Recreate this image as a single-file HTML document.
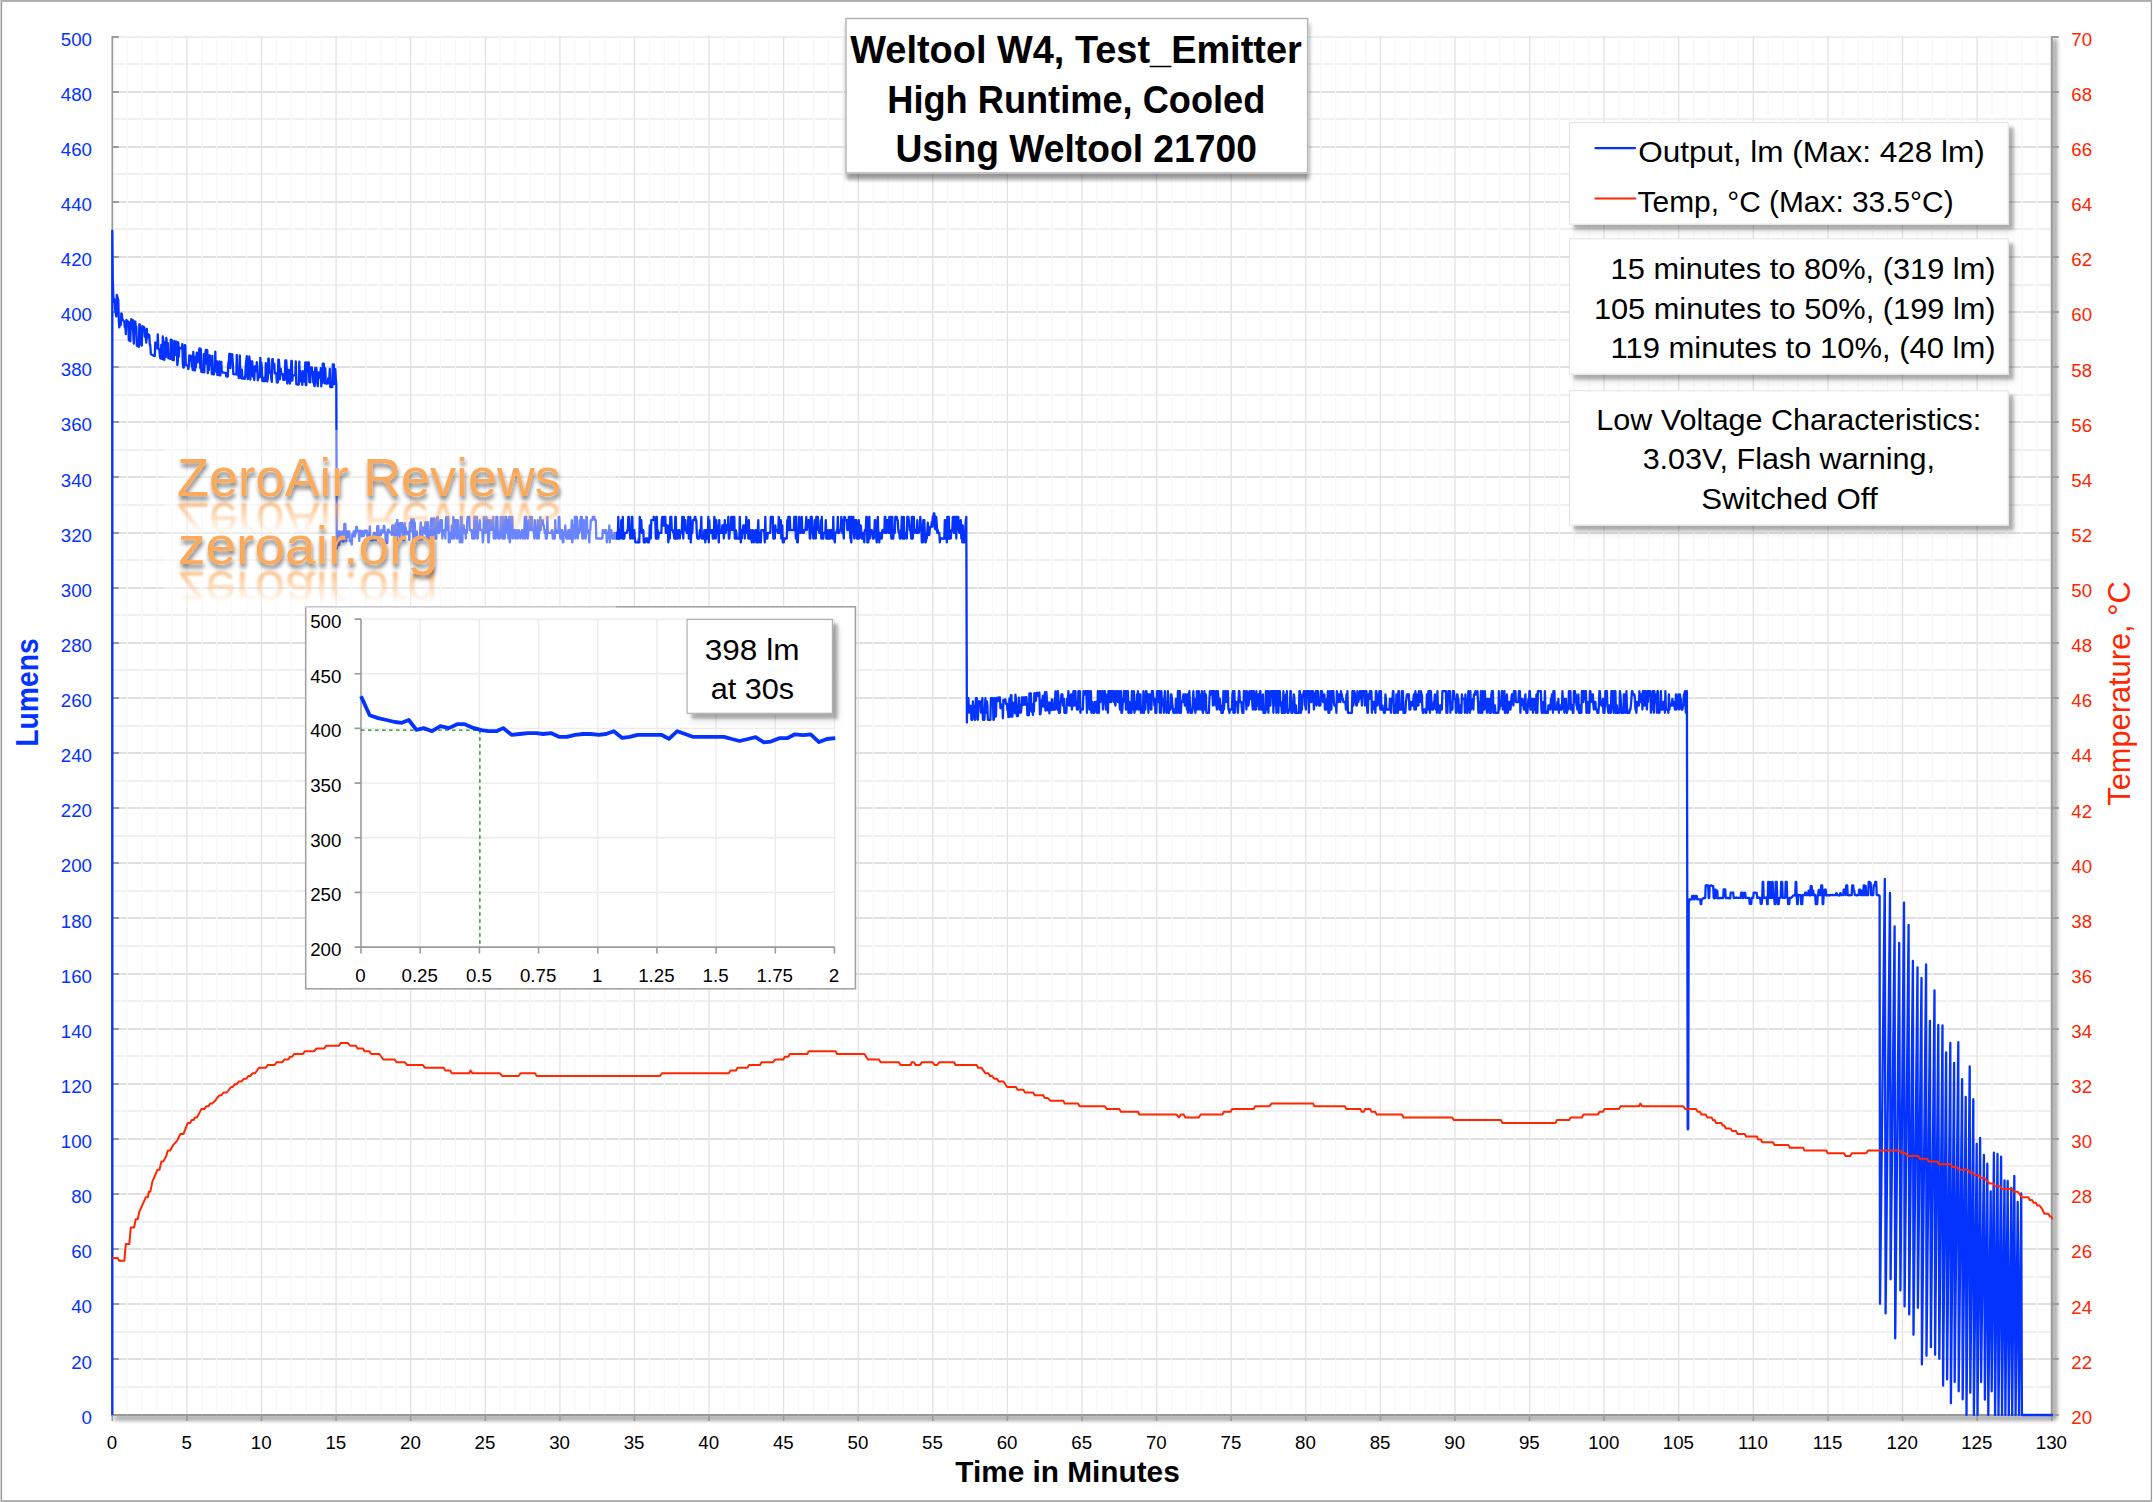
<!DOCTYPE html>
<html lang="en"><head><meta charset="utf-8"><title>Weltool W4, Test_Emitter - High Runtime, Cooled</title>
<style>html,body{margin:0;padding:0;background:#fff}svg{display:block}text{font-family:'Liberation Sans', sans-serif}</style></head><body>
<svg width="2153" height="1502" viewBox="0 0 2153 1502">
<defs>
<filter id="sh" x="-5%" y="-10%" width="115%" height="135%"><feGaussianBlur in="SourceAlpha" stdDeviation="1.5" result="b1"/><feOffset in="b1" dx="4.5" dy="5.3" result="o1"/><feComponentTransfer in="o1" result="s1"><feFuncA type="linear" slope="0.25"/></feComponentTransfer><feGaussianBlur in="SourceAlpha" stdDeviation="4" result="b2"/><feOffset in="b2" dx="4.5" dy="6.5" result="o2"/><feComponentTransfer in="o2" result="s2"><feFuncA type="linear" slope="0.12"/></feComponentTransfer><feMerge><feMergeNode in="s2"/><feMergeNode in="s1"/><feMergeNode in="SourceGraphic"/></feMerge></filter>
<filter id="shT" x="-5%" y="-10%" width="110%" height="135%"><feGaussianBlur in="SourceAlpha" stdDeviation="2.3"/><feOffset dx="0.5" dy="5.5"/><feComponentTransfer><feFuncA type="linear" slope="0.4"/></feComponentTransfer><feMerge><feMergeNode/><feMergeNode in="SourceGraphic"/></feMerge></filter>
<filter id="shAx" filterUnits="userSpaceOnUse" x="90" y="20" width="2000" height="1430"><feGaussianBlur in="SourceAlpha" stdDeviation="2.6"/><feOffset dx="2.8" dy="2.8"/><feComponentTransfer><feFuncA type="linear" slope="0.95"/></feComponentTransfer><feMerge><feMergeNode/><feMergeNode in="SourceGraphic"/></feMerge></filter>
<filter id="wsh" x="-5%" y="-20%" width="110%" height="150%"><feGaussianBlur in="SourceAlpha" stdDeviation="2.2"/><feOffset dx="1" dy="3.5"/><feComponentTransfer><feFuncA type="linear" slope="0.5"/></feComponentTransfer><feMerge><feMergeNode/><feMergeNode in="SourceGraphic"/></feMerge></filter>
<filter id="rb" x="-5%" y="-20%" width="110%" height="140%"><feGaussianBlur stdDeviation="1"/></filter>
<linearGradient id="rg1" gradientUnits="userSpaceOnUse" x1="0" y1="499.5" x2="0" y2="465"><stop offset="0" stop-color="#FBAA5C" stop-opacity="0.8"/><stop offset="1" stop-color="#FBAA5C" stop-opacity="0"/></linearGradient>
<linearGradient id="rg2" gradientUnits="userSpaceOnUse" x1="0" y1="567.9" x2="0" y2="532"><stop offset="0" stop-color="#FBAA5C" stop-opacity="0.8"/><stop offset="1" stop-color="#FBAA5C" stop-opacity="0"/></linearGradient>
<clipPath id="rc1"><rect x="160" y="499.5" width="460" height="40"/></clipPath>
<clipPath id="rc2"><rect x="160" y="567.9" width="460" height="40"/></clipPath>
</defs>
<rect x="0" y="0" width="2153" height="1502" fill="#fff"/>
<rect x="0" y="0" width="1" height="1502" fill="#D9D9D9"/>
<rect x="0.9" y="0" width="1.25" height="1502" fill="#999"/><rect x="2150.8" y="0" width="1.25" height="1502" fill="#999"/>
<rect x="0.9" y="0" width="2151.1" height="1.9" fill="#ADADAD"/><rect x="0.9" y="1500.1" width="2151.1" height="1.9" fill="#ADADAD"/>
<g filter="url(#shAx)"><path d="M111.3 1415 H2052.7 M2051.7 36 V1416" stroke="#9B9B9B" stroke-width="2" fill="none"/></g>
<rect x="112.3" y="34" width="1938.4" height="1380" fill="#fff"/>
<path d="M112.3 1387 H2051.7 M112.3 1332 H2051.7 M112.3 1277 H2051.7 M112.3 1222 H2051.7 M112.3 1166 H2051.7 M112.3 1111 H2051.7 M112.3 1056 H2051.7 M112.3 1001 H2051.7 M112.3 946 H2051.7 M112.3 891 H2051.7 M112.3 836 H2051.7 M112.3 781 H2051.7 M112.3 726 H2051.7 M112.3 670 H2051.7 M112.3 615 H2051.7 M112.3 560 H2051.7 M112.3 505 H2051.7 M112.3 450 H2051.7 M112.3 395 H2051.7 M112.3 340 H2051.7 M112.3 285 H2051.7 M112.3 229 H2051.7 M112.3 174 H2051.7 M112.3 119 H2051.7 M112.3 64 H2051.7" stroke="#F0F0F0" stroke-width="2" fill="none"/>
<path d="M112.3 1359 H2051.7 M112.3 1304 H2051.7 M112.3 1249 H2051.7 M112.3 1194 H2051.7 M112.3 1139 H2051.7 M112.3 1084 H2051.7 M112.3 1029 H2051.7 M112.3 974 H2051.7 M112.3 918 H2051.7 M112.3 863 H2051.7 M112.3 808 H2051.7 M112.3 753 H2051.7 M112.3 698 H2051.7 M112.3 643 H2051.7 M112.3 588 H2051.7 M112.3 533 H2051.7 M112.3 477 H2051.7 M112.3 422 H2051.7 M112.3 367 H2051.7 M112.3 312 H2051.7 M112.3 257 H2051.7 M112.3 202 H2051.7 M112.3 147 H2051.7 M112.3 92 H2051.7" stroke="#E0E0E0" stroke-width="2" fill="none"/>
<path d="M112.3 37 H2051.7" stroke="#EEEEEE" stroke-width="2" fill="none"/>
<path d="M127.2 36 V1415 M142.1 36 V1415 M157.1 36 V1415 M172 36 V1415 M201.8 36 V1415 M216.7 36 V1415 M231.6 36 V1415 M246.6 36 V1415 M276.4 36 V1415 M291.3 36 V1415 M306.2 36 V1415 M321.2 36 V1415 M351 36 V1415 M365.9 36 V1415 M380.8 36 V1415 M395.8 36 V1415 M425.6 36 V1415 M440.5 36 V1415 M455.4 36 V1415 M470.3 36 V1415 M500.2 36 V1415 M515.1 36 V1415 M530 36 V1415 M544.9 36 V1415 M574.8 36 V1415 M589.7 36 V1415 M604.6 36 V1415 M619.5 36 V1415 M649.4 36 V1415 M664.3 36 V1415 M679.2 36 V1415 M694.1 36 V1415 M724 36 V1415 M738.9 36 V1415 M753.8 36 V1415 M768.7 36 V1415 M798.5 36 V1415 M813.5 36 V1415 M828.4 36 V1415 M843.3 36 V1415 M873.1 36 V1415 M888.1 36 V1415 M903 36 V1415 M917.9 36 V1415 M947.7 36 V1415 M962.7 36 V1415 M977.6 36 V1415 M992.5 36 V1415 M1022.3 36 V1415 M1037.2 36 V1415 M1052.2 36 V1415 M1067.1 36 V1415 M1096.9 36 V1415 M1111.8 36 V1415 M1126.8 36 V1415 M1141.7 36 V1415 M1171.5 36 V1415 M1186.4 36 V1415 M1201.3 36 V1415 M1216.3 36 V1415 M1246.1 36 V1415 M1261 36 V1415 M1275.9 36 V1415 M1290.9 36 V1415 M1320.7 36 V1415 M1335.6 36 V1415 M1350.5 36 V1415 M1365.5 36 V1415 M1395.3 36 V1415 M1410.2 36 V1415 M1425.1 36 V1415 M1440 36 V1415 M1469.9 36 V1415 M1484.8 36 V1415 M1499.7 36 V1415 M1514.6 36 V1415 M1544.5 36 V1415 M1559.4 36 V1415 M1574.3 36 V1415 M1589.2 36 V1415 M1619.1 36 V1415 M1634 36 V1415 M1648.9 36 V1415 M1663.8 36 V1415 M1693.7 36 V1415 M1708.6 36 V1415 M1723.5 36 V1415 M1738.4 36 V1415 M1768.2 36 V1415 M1783.2 36 V1415 M1798.1 36 V1415 M1813 36 V1415 M1842.8 36 V1415 M1857.8 36 V1415 M1872.7 36 V1415 M1887.6 36 V1415 M1917.4 36 V1415 M1932.4 36 V1415 M1947.3 36 V1415 M1962.2 36 V1415 M1992 36 V1415 M2006.9 36 V1415 M2021.9 36 V1415 M2036.8 36 V1415" stroke="#F7F7F7" stroke-width="1.3" fill="none"/>
<path d="M186.9 36 V1415 M261.5 36 V1415 M336.1 36 V1415 M410.7 36 V1415 M485.3 36 V1415 M559.9 36 V1415 M634.4 36 V1415 M709 36 V1415 M783.6 36 V1415 M858.2 36 V1415 M932.8 36 V1415 M1007.4 36 V1415 M1082 36 V1415 M1156.6 36 V1415 M1231.2 36 V1415 M1305.8 36 V1415 M1380.4 36 V1415 M1455 36 V1415 M1529.6 36 V1415 M1604.1 36 V1415 M1678.7 36 V1415 M1753.3 36 V1415 M1827.9 36 V1415 M1902.5 36 V1415 M1977.1 36 V1415" stroke="#E2E2E2" stroke-width="1.3" fill="none"/>
<path d="M111.3 1415 H2052.7 M2051.7 36 V1416 M112.3 36 V1415" stroke="#989898" stroke-width="1.7" fill="none"/>
<path d="M112.3 1415 h6.5 M112.3 1359 h6.5 M112.3 1304 h6.5 M112.3 1249 h6.5 M112.3 1194 h6.5 M112.3 1139 h6.5 M112.3 1084 h6.5 M112.3 1029 h6.5 M112.3 974 h6.5 M112.3 918 h6.5 M112.3 863 h6.5 M112.3 808 h6.5 M112.3 753 h6.5 M112.3 698 h6.5 M112.3 643 h6.5 M112.3 588 h6.5 M112.3 533 h6.5 M112.3 477 h6.5 M112.3 422 h6.5 M112.3 367 h6.5 M112.3 312 h6.5 M112.3 257 h6.5 M112.3 202 h6.5 M112.3 147 h6.5 M112.3 92 h6.5 M112.3 37 h6.5 M2051.7 1415 h7 M2051.7 1359 h7 M2051.7 1304 h7 M2051.7 1249 h7 M2051.7 1194 h7 M2051.7 1139 h7 M2051.7 1084 h7 M2051.7 1029 h7 M2051.7 974 h7 M2051.7 918 h7 M2051.7 863 h7 M2051.7 808 h7 M2051.7 753 h7 M2051.7 698 h7 M2051.7 643 h7 M2051.7 588 h7 M2051.7 533 h7 M2051.7 477 h7 M2051.7 422 h7 M2051.7 367 h7 M2051.7 312 h7 M2051.7 257 h7 M2051.7 202 h7 M2051.7 147 h7 M2051.7 92 h7 M2051.7 37 h7" stroke="#9B9B9B" stroke-width="2" fill="none"/>
<path d="M112.3 1415 v6 M186.9 1415 v6 M261.5 1415 v6 M336.1 1415 v6 M410.7 1415 v6 M485.3 1415 v6 M559.9 1415 v6 M634.4 1415 v6 M709 1415 v6 M783.6 1415 v6 M858.2 1415 v6 M932.8 1415 v6 M1007.4 1415 v6 M1082 1415 v6 M1156.6 1415 v6 M1231.2 1415 v6 M1305.8 1415 v6 M1380.4 1415 v6 M1455 1415 v6 M1529.6 1415 v6 M1604.1 1415 v6 M1678.7 1415 v6 M1753.3 1415 v6 M1827.9 1415 v6 M1902.5 1415 v6 M1977.1 1415 v6 M2051.7 1415 v6" stroke="#9B9B9B" stroke-width="1.6" fill="none"/>
<g font-size="18.7" fill="#0433FF" text-anchor="end">
<text x="92" y="1423.6">0</text>
<text x="92" y="1368.5">20</text>
<text x="92" y="1313.4">40</text>
<text x="92" y="1258.2">60</text>
<text x="92" y="1203.1">80</text>
<text x="92" y="1148">100</text>
<text x="92" y="1092.9">120</text>
<text x="92" y="1037.8">140</text>
<text x="92" y="982.6">160</text>
<text x="92" y="927.5">180</text>
<text x="92" y="872.4">200</text>
<text x="92" y="817.3">220</text>
<text x="92" y="762.2">240</text>
<text x="92" y="707">260</text>
<text x="92" y="651.9">280</text>
<text x="92" y="596.8">300</text>
<text x="92" y="541.7">320</text>
<text x="92" y="486.6">340</text>
<text x="92" y="431.4">360</text>
<text x="92" y="376.3">380</text>
<text x="92" y="321.2">400</text>
<text x="92" y="266.1">420</text>
<text x="92" y="211">440</text>
<text x="92" y="155.8">460</text>
<text x="92" y="100.7">480</text>
<text x="92" y="45.6">500</text>
</g>
<g font-size="18.7" fill="#FF2600">
<text x="2071.3" y="1423.8">20</text>
<text x="2071.3" y="1368.7">22</text>
<text x="2071.3" y="1313.6">24</text>
<text x="2071.3" y="1258.4">26</text>
<text x="2071.3" y="1203.3">28</text>
<text x="2071.3" y="1148.2">30</text>
<text x="2071.3" y="1093.1">32</text>
<text x="2071.3" y="1038">34</text>
<text x="2071.3" y="982.8">36</text>
<text x="2071.3" y="927.7">38</text>
<text x="2071.3" y="872.6">40</text>
<text x="2071.3" y="817.5">42</text>
<text x="2071.3" y="762.4">44</text>
<text x="2071.3" y="707.2">46</text>
<text x="2071.3" y="652.1">48</text>
<text x="2071.3" y="597">50</text>
<text x="2071.3" y="541.9">52</text>
<text x="2071.3" y="486.8">54</text>
<text x="2071.3" y="431.6">56</text>
<text x="2071.3" y="376.5">58</text>
<text x="2071.3" y="321.4">60</text>
<text x="2071.3" y="266.3">62</text>
<text x="2071.3" y="211.2">64</text>
<text x="2071.3" y="156">66</text>
<text x="2071.3" y="100.9">68</text>
<text x="2071.3" y="45.8">70</text>
</g>
<g font-size="18.7" fill="#000" text-anchor="middle">
<text x="112" y="1449">0</text>
<text x="186.6" y="1449">5</text>
<text x="261.2" y="1449">10</text>
<text x="335.8" y="1449">15</text>
<text x="410.4" y="1449">20</text>
<text x="485" y="1449">25</text>
<text x="559.6" y="1449">30</text>
<text x="634.1" y="1449">35</text>
<text x="708.7" y="1449">40</text>
<text x="783.3" y="1449">45</text>
<text x="857.9" y="1449">50</text>
<text x="932.5" y="1449">55</text>
<text x="1007.1" y="1449">60</text>
<text x="1081.7" y="1449">65</text>
<text x="1156.3" y="1449">70</text>
<text x="1230.9" y="1449">75</text>
<text x="1305.5" y="1449">80</text>
<text x="1380.1" y="1449">85</text>
<text x="1454.7" y="1449">90</text>
<text x="1529.3" y="1449">95</text>
<text x="1603.8" y="1449">100</text>
<text x="1678.4" y="1449">105</text>
<text x="1753" y="1449">110</text>
<text x="1827.6" y="1449">115</text>
<text x="1902.2" y="1449">120</text>
<text x="1976.8" y="1449">125</text>
<text x="2051.4" y="1449">130</text>
</g>
<text transform="translate(38 692.5) rotate(-90)" text-anchor="middle" font-size="31.5" font-weight="bold" fill="#0433FF" textLength="108.5" lengthAdjust="spacingAndGlyphs">Lumens</text>
<text transform="translate(2130.2 693.5) rotate(-90)" text-anchor="middle" font-size="31.5" fill="#FF2600" textLength="224.5" lengthAdjust="spacingAndGlyphs">Temperature, °C</text>
<text x="1067.5" y="1481.7" text-anchor="middle" font-size="30" font-weight="bold" fill="#000" textLength="224.5" lengthAdjust="spacingAndGlyphs">Time in Minutes</text>
<polyline fill="none" stroke="#0433FF" stroke-width="2.3" stroke-linejoin="round" points="112.3,1415 112.3,230.8 112.8,279.6 113.3,296.2 113.8,301.6 114.3,299.2 114.8,302.3 115.3,310.9 115.8,313.9 116.3,316.4 116.8,294.8 117.3,296.6 117.8,298.5 118.3,300.3 118.8,320.1 119.3,327.4 119.8,323.7 120.3,324.3 120.8,325 121.3,313.5 121.8,314.1 122.3,319.2 122.8,319.8 123.3,320.5 123.8,321.1 124.3,321.8 124.8,327.4 125.3,323.1 125.8,334.2 126.3,320 126.8,320.6 127.3,325.6 127.8,321.5 128.3,321.8 128.8,340.4 129.3,322.5 129.8,322.8 130.3,341.3 130.8,323.5 131.3,319.1 131.8,324.1 132.3,328.8 132.8,320.1 133.3,334.4 133.8,343.6 134.3,330.1 134.8,321.4 135.3,321.7 135.8,326.7 136.3,327 136.8,345.5 137.3,345.9 137.8,346.2 138.3,346.5 138.8,346.8 139.3,324.3 139.8,324.6 140.3,334 140.8,329.9 141.3,345.1 141.8,345.5 142.3,326.2 142.8,326.5 143.3,326.8 143.8,327.1 144.3,327.4 144.8,336.8 145.3,337 145.8,337.3 146.3,342.6 146.8,328.8 147.3,338.2 147.8,334.1 148.3,334.4 148.8,334.7 149.3,335 149.8,344.6 150.3,344.9 150.8,354 151.3,354.3 151.8,354.6 152.3,354.9 152.8,355.2 153.3,355.5 153.8,355.7 154.3,355.9 154.8,356.1 155.3,342.5 155.8,342.7 156.3,342.9 156.8,348.1 157.3,348.3 157.8,334.4 158.3,348.7 158.8,348.9 159.3,349.1 159.8,354.8 160.3,358.3 160.8,358.5 161.3,344.9 161.8,345.1 162.3,359.1 162.8,336.4 163.3,341.3 163.8,341.5 164.3,359.9 164.8,346.3 165.3,357 165.8,357.1 166.3,337.8 166.8,342.7 167.3,342.9 167.8,343.1 168.3,358.1 168.8,358.3 169.3,358.5 169.8,358.7 170.3,358.9 170.8,339.6 171.3,339.8 171.8,340 172.3,359.7 172.8,359.9 173.3,360.1 173.8,360.3 174.3,341 174.8,355.2 175.3,346 175.8,346.2 176.3,341.7 176.8,346.6 177.3,365 177.8,361.9 178.3,342.5 178.8,356.8 179.3,347.6 179.8,347.8 180.3,348 180.8,348.2 181.3,348.4 181.8,348.6 182.3,344.1 182.8,363.9 183.3,367.4 183.8,367.6 184.3,354 184.8,345.1 185.3,345.3 185.8,365.1 186.3,365.3 186.8,365.5 187.3,365.6 187.8,365.7 188.3,369.1 188.8,365.9 189.3,355.5 189.8,360.6 190.3,360.7 190.8,355.9 191.3,356 191.8,366.5 192.3,366.6 192.8,370 193.3,352 193.8,366.9 194.3,356.6 194.8,370.5 195.3,367.3 195.8,367.4 196.3,357 196.8,352.7 197.3,362.2 197.8,362.3 198.3,353 198.8,357.5 199.3,348.5 199.8,348.6 200.3,368.3 200.8,348.8 201.3,371.8 201.8,371.9 202.3,372 202.8,372.1 203.3,372.2 203.8,354.1 204.3,372.4 204.8,354.3 205.3,354.5 205.8,349.9 206.3,350 206.8,364.1 207.3,350.2 207.8,373.2 208.3,359.5 208.8,370.1 209.3,355.3 209.8,355.4 210.3,364.9 210.8,365 211.3,360.1 211.8,374 212.3,355.9 212.8,374.2 213.3,374.3 213.8,374.4 214.3,371.2 214.8,371.2 215.3,351.7 215.8,371.4 216.3,371.5 216.8,361.1 217.3,374.9 217.8,375 218.3,366.3 218.8,366.3 219.3,361.5 219.8,375.3 220.3,375.4 220.8,366.6 221.3,361.8 221.8,372.3 222.3,372.4 222.8,372.5 223.3,372.5 223.8,372.6 224.3,372.7 224.8,372.8 225.3,372.9 225.8,372.9 226.3,376.3 226.8,376.4 227.3,376.5 227.8,376.5 228.3,362.8 228.8,362.9 229.3,353.9 229.8,354 230.3,368.1 230.8,354.1 231.3,363.3 231.8,354.3 232.3,354.4 232.8,363.5 233.3,374.1 233.8,374.1 234.3,374.2 234.8,374.3 235.3,374.3 235.8,374.4 236.3,374.4 236.8,354.9 237.3,374.6 237.8,374.6 238.3,374.7 238.8,378.1 239.3,374.8 239.8,355.3 240.3,374.9 240.8,375 241.3,378.4 241.8,369.6 242.3,375.2 242.8,378.6 243.3,378.6 243.8,378.7 244.3,378.7 244.8,378.8 245.3,375.6 245.8,365.1 246.3,360.8 246.8,356.2 247.3,375.8 247.8,379.2 248.3,365.5 248.8,365.5 249.3,356.5 249.8,361.2 250.3,379.5 250.8,370.7 251.3,361.4 251.8,365.9 252.3,361.5 252.8,376.5 253.3,376.5 253.8,376.6 254.3,380 254.8,366.3 255.3,366.3 255.8,371.3 256.3,371.4 256.8,362.1 257.3,366.6 257.8,380.4 258.3,377.2 258.8,377.2 259.3,377.3 259.8,377.3 260.3,357.8 260.8,371.9 261.3,362.6 261.8,367.1 262.3,380.9 262.8,381 263.3,381 263.8,377.8 264.3,381.1 264.8,381.2 265.3,381.2 265.8,363.1 266.3,378 266.8,372.6 267.3,381.4 267.8,378.2 268.3,358.7 268.8,358.7 269.3,363.4 269.8,372.9 270.3,372.9 270.8,373 271.3,378.5 271.8,381.9 272.3,359.1 272.8,359.1 273.3,368.3 273.8,363.9 274.3,364 274.8,373.4 275.3,373.4 275.8,373.5 276.3,373.5 276.8,382.4 277.3,379.1 277.8,382.5 278.3,359.7 278.8,359.7 279.3,364.5 279.8,379.4 280.3,373.9 280.8,369 281.3,374 281.8,374.1 282.3,374.1 282.8,374.2 283.3,379.8 283.8,379.8 284.3,379.9 284.8,379.9 285.3,360.4 285.8,365.1 286.3,360.5 286.8,369.6 287.3,383.5 287.8,374.7 288.3,369.8 289.3,369.9 289.8,383.7 290.3,380.4 290.8,380.5 291.3,361 291.8,361 292.3,380.6 292.8,375.2 293.8,375.3 294.8,375.3 295.3,375.4 295.8,361.4 296.3,384.3 297.3,384.4 298.3,384.5 298.8,384.5 299.3,361.7 299.8,375.8 300.3,370.9 300.8,381.4 301.8,381.5 302.3,384.9 302.8,371.1 303.3,381.6 304.3,381.7 304.8,376.3 305.3,362.3 305.8,385.2 306.3,385.2 306.8,362.4 307.3,371.5 307.8,371.6 308.3,362.5 308.8,362.6 309.3,382.2 310.3,382.3 310.8,367.5 311.8,367.5 312.3,372 312.8,372 313.3,382.6 313.8,372.1 314.3,386 314.8,386 315.3,367.8 316.3,367.9 316.8,372.3 317.3,382.9 317.8,386.2 318.3,377.4 318.8,372.5 319.3,377.5 320.3,377.5 320.8,368.2 321.3,386.4 321.8,368.3 322.3,383.2 322.8,363.7 323.8,363.7 324.3,377.8 324.8,383.4 325.3,368.5 325.8,383.4 326.8,383.5 327.8,383.6 328.3,378.1 329.3,378.2 329.8,368.8 330.3,387.1 330.8,383.8 331.3,387.1 332.3,387.2 332.8,364.4 333.3,369.1 333.8,364.4 334.3,384 334.8,369.2 335.3,369.2 335.8,378.6 336.3,384.2 336.8,548.5 337.3,531.5 338.3,531.5 338.8,545 339.3,545 339.8,531.5 340.3,541.5 340.8,534.2 341.8,534.2 342.3,531.5 342.8,541.5 343.8,541.5 344.3,524 345.3,524 345.8,531.5 346.3,541.4 346.8,531.4 347.3,536.8 347.8,536.8 348.3,531.4 349.3,531.3 349.8,541.3 351.3,541.2 351.8,544.7 352.3,533.9 353.3,533.8 353.8,531.1 354.3,536.5 354.8,536.5 355.3,531.1 355.8,533.7 356.3,527 356.8,527 357.3,531 358.8,530.9 359.3,540.9 359.8,530.9 360.8,530.8 361.3,536.2 361.8,530.8 362.3,536.2 363.8,536.1 364.3,530.7 364.8,533.4 365.3,530.6 366.8,530.6 367.3,535.9 367.8,533.2 368.8,533.2 369.3,535.9 369.8,526.4 370.3,540.4 371.8,540.4 372.8,540.3 373.3,535.7 373.8,533 374.8,532.9 375.3,540.2 375.8,540.2 376.3,535.6 376.8,535.5 377.3,526.1 378.3,526.1 378.8,535.5 380.3,535.4 380.8,535.4 381.3,530 381.8,532.6 383.3,532.6 383.8,525.9 384.3,525.8 384.8,532.5 385.3,532.5 385.8,543.3 386.3,535.2 386.8,532.4 387.3,543.2 387.8,529.7 388.8,529.7 389.3,532.4 390.8,532.3 391.3,532.3 391.8,535 392.3,525.5 392.8,532.2 393.3,525.5 393.8,525.5 394.3,539.5 394.8,539.4 395.3,540.4 395.8,523.4 396.3,523.4 396.8,543.9 397.3,519.9 397.8,532 398.3,534.7 398.8,523.3 399.3,528.3 399.8,540.3 400.3,523.2 400.8,523.2 401.3,531.9 401.8,523.2 402.3,523.2 402.8,540.1 404.3,540.1 404.8,523.1 405.3,534.5 405.8,528 406.3,534.4 406.8,534.4 407.3,531.7 408.8,531.6 409.3,539.9 409.8,522.9 410.8,522.8 411.3,519.3 411.8,531.5 412.3,531.5 412.8,519.3 413.3,539.8 413.8,519.2 414.3,531.4 414.8,522.7 415.3,543.2 415.8,539.7 416.3,539.6 416.8,531.3 417.3,539.6 418.8,539.5 419.8,539.5 420.3,527.5 420.8,522.5 421.3,539.4 422.3,539.4 422.8,527.4 423.8,527.3 424.3,527.3 424.8,533.7 425.3,522.2 425.8,522.2 426.3,533.6 426.8,539.2 427.3,533.5 427.8,522.1 428.3,533.5 428.8,539.1 429.3,539 429.8,533.4 430.3,539 430.8,522 431.3,518.4 431.8,526.9 432.3,542.4 432.8,533.3 433.3,518.3 434.3,518.3 434.8,530.5 435.3,538.7 436.3,538.7 436.8,518.2 437.3,516.9 437.8,516.9 438.3,520.2 438.8,533 439.3,532.9 439.8,530.2 440.3,530.2 440.8,520.1 441.8,520.1 442.3,538.5 442.8,530.2 443.8,530.2 444.3,532.9 444.8,532.9 445.3,538.5 445.8,520.1 446.3,516.8 446.8,530.2 447.8,530.2 448.3,516.8 448.8,542.4 449.8,542.4 450.3,532.9 450.8,538.5 451.3,538.5 451.8,525.5 452.3,525.5 452.8,538.5 453.3,516.8 453.8,538.5 454.3,538.5 454.8,520.1 456.3,520.1 456.8,538.5 457.3,538.5 457.8,520.1 458.3,530.2 458.8,532.9 459.3,532.9 459.8,542.4 460.3,542.4 460.8,516.8 461.8,516.8 462.3,542.4 462.8,525.5 463.8,525.5 464.3,532.9 464.8,532.9 465.3,530.2 465.8,538.5 466.3,530.2 466.8,532.9 467.3,520.1 467.8,516.8 469.3,516.8 469.8,530.2 471.3,530.2 471.8,532.9 472.3,538.5 472.8,538.5 473.3,530.2 473.8,538.5 474.3,516.8 474.8,538.5 475.3,516.8 476.8,516.8 477.3,538.5 477.8,538.5 478.3,525.5 479.3,525.5 479.8,520.1 480.3,530.2 482.3,530.2 482.8,542.4 483.3,538.5 483.8,516.8 484.3,530.2 484.8,530.2 485.3,532.9 485.8,532.9 486.3,516.8 486.8,520.1 487.8,520.1 488.3,542.4 488.8,542.4 489.3,530.2 489.8,520.1 490.3,530.2 490.8,520.1 491.3,525.5 491.8,525.5 492.3,530.2 492.8,530.2 493.3,516.8 493.8,538.5 494.3,532.9 494.8,530.2 495.3,538.5 495.8,538.5 496.3,516.8 497.3,516.8 497.8,530.2 498.3,538.5 498.8,538.5 499.3,532.9 499.8,538.5 500.3,530.2 500.8,516.8 501.3,532.9 501.8,520.1 502.3,538.5 502.8,516.8 503.3,538.5 504.8,538.5 505.3,516.8 506.3,516.8 506.8,532.9 507.3,532.9 507.8,520.1 508.3,538.5 508.8,538.5 509.3,516.8 509.8,542.4 510.3,538.5 510.8,520.1 511.3,516.8 512.3,516.8 512.8,538.5 513.3,530.2 514.8,530.2 515.3,538.5 515.8,532.9 516.3,530.2 516.8,530.2 517.3,538.5 517.8,538.5 518.3,532.9 518.8,530.2 519.3,532.9 519.8,532.9 520.3,538.5 520.8,532.9 521.3,532.9 521.8,530.2 522.3,530.2 522.8,538.5 523.8,538.5 524.3,530.2 524.8,516.8 525.3,516.8 525.8,538.5 526.3,516.8 526.8,532.9 527.3,532.9 527.8,538.5 528.3,530.2 528.8,520.1 529.3,530.2 529.8,516.8 530.3,530.2 531.3,530.2 531.8,516.8 532.3,530.2 533.8,530.2 534.3,538.5 534.8,520.1 535.3,530.2 536.3,530.2 536.8,538.5 537.3,530.2 537.8,520.1 538.3,530.2 538.8,538.5 539.3,530.2 539.8,530.2 540.3,516.8 540.8,530.2 541.3,520.1 542.8,520.1 543.3,525.5 543.8,525.5 544.3,530.2 544.8,532.9 545.3,530.2 545.8,538.5 546.8,538.5 547.3,516.8 547.8,532.9 551.3,532.9 551.8,530.2 552.3,530.2 552.8,538.5 553.3,538.5 553.8,532.9 554.3,532.9 554.8,538.5 555.3,520.1 555.8,532.9 556.3,530.2 556.8,532.9 558.3,532.9 558.8,516.8 559.3,516.8 559.8,530.2 560.3,538.5 560.8,538.5 561.3,530.2 561.8,532.9 562.3,530.2 562.8,542.4 563.3,542.4 563.8,532.9 564.8,532.9 565.3,525.5 565.8,532.9 566.3,538.5 566.8,538.5 567.3,532.9 567.8,538.5 568.3,530.2 568.8,538.5 569.3,538.5 569.8,530.2 570.3,538.5 570.8,538.5 571.3,530.2 571.8,520.1 572.3,542.4 572.8,538.5 573.3,525.5 573.8,525.5 574.3,532.9 574.8,516.8 575.3,538.5 575.8,516.8 576.8,516.8 577.3,532.9 577.8,538.5 578.3,532.9 579.3,532.9 579.8,520.1 580.3,530.2 580.8,516.8 581.8,516.8 582.3,538.5 582.8,530.2 583.3,538.5 583.8,520.1 584.3,530.2 584.8,530.2 585.3,538.5 585.8,538.5 586.3,516.8 586.8,516.8 587.3,532.9 587.8,530.2 588.3,530.2 588.8,532.9 589.3,542.4 589.8,530.2 590.3,530.2 590.8,520.1 592.3,520.1 592.8,516.8 594.3,516.8 594.8,520.1 595.8,520.1 596.3,538.5 602.3,538.5 602.8,530.2 603.3,530.2 603.8,532.9 604.8,532.9 605.3,530.2 605.8,532.9 606.3,530.2 606.8,542.4 607.3,532.9 608.3,532.9 608.8,538.5 609.3,525.5 609.8,542.4 610.3,532.9 610.8,530.2 611.3,530.2 611.8,532.9 612.3,538.5 613.8,538.5 614.3,532.9 614.8,538.5 615.8,538.5 616.3,532.9 616.8,532.9 617.3,538.5 617.8,538.5 618.3,516.8 618.8,538.5 620.3,538.5 620.8,532.9 621.3,520.1 621.8,520.1 622.3,538.5 622.8,516.8 623.3,538.5 624.3,538.5 624.8,532.9 626.8,532.9 627.3,530.2 627.8,530.2 628.3,516.8 628.8,516.8 629.3,530.2 629.8,530.2 630.3,538.5 630.8,538.5 631.3,530.2 631.8,516.8 632.3,516.8 632.8,538.5 633.3,532.9 633.8,532.9 634.3,530.2 634.8,538.5 635.3,542.4 638.3,542.4 638.8,538.5 639.3,542.4 639.8,516.8 640.3,530.2 640.8,530.2 641.3,520.1 641.8,532.9 642.3,532.9 642.8,530.2 643.3,530.2 643.8,542.4 645.3,542.4 645.8,538.5 647.3,538.5 647.8,542.4 648.8,542.4 649.3,538.5 649.8,525.5 650.3,538.5 650.8,538.5 651.3,520.1 653.3,520.1 653.8,516.8 654.3,520.1 655.3,520.1 655.8,538.5 656.3,516.8 656.8,516.8 657.3,538.5 657.8,530.2 658.3,538.5 658.8,532.9 661.3,532.9 661.8,520.1 662.3,516.8 662.8,516.8 663.3,525.5 664.3,525.5 664.8,516.8 665.3,516.8 665.8,532.9 666.3,532.9 666.8,525.5 667.8,525.5 668.3,542.4 668.8,538.5 669.8,538.5 670.3,516.8 670.8,525.5 671.3,516.8 671.8,530.2 672.8,530.2 673.3,532.9 673.8,532.9 674.3,538.5 674.8,538.5 675.3,516.8 675.8,516.8 676.3,538.5 677.8,538.5 678.3,530.2 679.3,530.2 679.8,538.5 680.3,532.9 681.3,532.9 681.8,530.2 682.3,516.8 682.8,525.5 683.3,538.5 683.8,516.8 684.3,530.2 684.8,520.1 685.3,520.1 685.8,530.2 686.3,530.2 686.8,532.9 687.3,532.9 687.8,530.2 688.3,516.8 688.8,538.5 689.3,525.5 689.8,530.2 690.3,516.8 690.8,542.4 691.3,532.9 692.3,532.9 692.8,520.1 694.3,520.1 694.8,516.8 695.3,516.8 695.8,520.1 696.3,520.1 696.8,532.9 697.3,538.5 699.3,538.5 699.8,530.2 700.8,530.2 701.3,516.8 701.8,538.5 703.8,538.5 704.3,530.2 704.8,532.9 705.3,542.4 705.8,530.2 706.8,530.2 707.3,538.5 707.8,538.5 708.3,516.8 708.8,542.4 709.3,520.1 709.8,532.9 710.8,532.9 711.3,530.2 712.3,530.2 712.8,538.5 713.3,532.9 713.8,538.5 714.3,516.8 714.8,520.1 715.3,520.1 715.8,538.5 716.3,520.1 716.8,530.2 717.3,525.5 717.8,532.9 718.3,532.9 718.8,542.4 719.3,520.1 719.8,532.9 721.8,532.9 722.3,525.5 723.3,525.5 723.8,538.5 724.3,532.9 724.8,520.1 725.3,530.2 725.8,532.9 726.3,525.5 727.3,525.5 727.8,530.2 728.3,516.8 728.8,538.5 729.3,538.5 729.8,530.2 730.3,530.2 730.8,525.5 731.3,516.8 731.8,516.8 732.3,530.2 733.3,530.2 733.8,516.8 734.3,516.8 734.8,538.5 735.3,538.5 735.8,530.2 736.3,532.9 736.8,538.5 739.3,538.5 739.8,516.8 740.3,532.9 740.8,542.4 741.3,530.2 741.8,538.5 742.3,530.2 742.8,530.2 743.3,525.5 743.8,532.9 744.3,525.5 744.8,538.5 745.3,530.2 745.8,530.2 746.3,516.8 746.8,532.9 747.3,532.9 747.8,525.5 748.3,538.5 748.8,520.1 749.3,538.5 750.3,538.5 750.8,530.2 751.3,538.5 751.8,542.4 752.3,532.9 752.8,530.2 753.3,532.9 753.8,542.4 754.3,532.9 754.8,532.9 755.3,530.2 755.8,532.9 756.3,542.4 756.8,530.2 757.3,542.4 757.8,532.9 758.3,520.1 758.8,542.4 759.3,532.9 759.8,532.9 760.3,538.5 760.8,542.4 761.3,530.2 763.8,530.2 764.3,532.9 764.8,542.4 765.3,516.8 765.8,538.5 767.3,538.5 767.8,532.9 770.3,532.9 770.8,516.8 772.8,516.8 773.3,538.5 774.8,538.5 775.3,525.5 775.8,530.2 777.3,530.2 777.8,532.9 778.3,530.2 778.8,516.8 779.3,532.9 779.8,530.2 780.3,520.1 780.8,520.1 781.3,538.5 781.8,538.5 782.3,525.5 782.8,542.4 783.8,542.4 784.3,538.5 786.8,538.5 787.3,520.1 787.8,525.5 788.3,516.8 788.8,530.2 789.3,516.8 789.8,516.8 790.3,530.2 793.8,530.2 794.3,516.8 795.3,516.8 795.8,538.5 796.3,516.8 796.8,538.5 797.3,542.4 797.8,542.4 798.3,530.2 798.8,530.2 799.3,516.8 799.8,520.1 800.3,532.9 800.8,520.1 801.3,520.1 801.8,516.8 802.3,532.9 802.8,532.9 803.3,530.2 803.8,532.9 804.3,530.2 805.3,530.2 805.8,525.5 806.3,516.8 806.8,530.2 807.3,525.5 807.8,525.5 808.3,520.1 808.8,520.1 809.3,525.5 809.8,538.5 810.3,538.5 810.8,516.8 811.8,516.8 812.3,532.9 812.8,530.2 813.3,538.5 813.8,538.5 814.3,530.2 814.8,520.1 815.3,520.1 815.8,538.5 816.3,516.8 817.8,516.8 818.3,530.2 818.8,530.2 819.3,532.9 820.3,532.9 820.8,520.1 821.3,538.5 821.8,516.8 822.3,538.5 823.3,538.5 823.8,532.9 825.3,532.9 825.8,520.1 826.3,538.5 826.8,538.5 827.3,530.2 827.8,538.5 828.8,538.5 829.3,530.2 829.8,538.5 830.3,538.5 830.8,530.2 831.8,530.2 832.3,538.5 832.8,538.5 833.3,516.8 833.8,538.5 834.3,538.5 834.8,542.4 835.3,532.9 836.3,532.9 836.8,530.2 837.3,530.2 837.8,516.8 838.3,532.9 839.3,532.9 839.8,530.2 840.8,530.2 841.3,516.8 841.8,525.5 842.3,532.9 842.8,520.1 843.3,532.9 843.8,538.5 844.3,516.8 844.8,516.8 845.3,520.1 846.8,520.1 847.3,530.2 848.3,530.2 848.8,516.8 849.8,516.8 850.3,538.5 850.8,538.5 851.3,542.4 851.8,516.8 852.3,530.2 852.8,530.2 853.3,516.8 853.8,532.9 854.3,538.5 854.8,520.1 856.3,520.1 856.8,538.5 858.3,538.5 858.8,520.1 859.3,538.5 859.8,525.5 860.8,525.5 861.3,532.9 861.8,538.5 862.8,538.5 863.3,532.9 863.8,538.5 864.3,542.4 864.8,530.2 865.8,530.2 866.3,516.8 866.8,516.8 867.3,542.4 868.3,542.4 868.8,520.1 869.3,516.8 869.8,538.5 870.3,530.2 870.8,530.2 871.3,532.9 871.8,530.2 872.3,532.9 872.8,538.5 873.8,538.5 874.3,532.9 874.8,520.1 875.3,520.1 875.8,530.2 876.3,538.5 876.8,542.4 877.3,532.9 877.8,516.8 878.3,532.9 878.8,532.9 879.3,542.4 879.8,532.9 880.3,532.9 880.8,538.5 881.8,538.5 882.3,530.2 883.8,530.2 884.3,532.9 884.8,516.8 885.3,516.8 885.8,532.9 886.3,532.9 886.8,520.1 887.8,520.1 888.3,532.9 888.8,532.9 889.3,516.8 889.8,532.9 890.3,532.9 890.8,516.8 891.3,538.5 891.8,538.5 892.3,516.8 892.8,538.5 893.3,538.5 893.8,530.2 894.3,530.2 894.8,532.9 895.3,516.8 896.8,516.8 897.3,520.1 897.8,520.1 898.3,530.2 898.8,532.9 899.3,532.9 899.8,538.5 900.3,538.5 900.8,530.2 901.3,532.9 901.8,516.8 902.3,538.5 903.3,538.5 903.8,516.8 904.3,538.5 904.8,538.5 905.3,532.9 906.3,532.9 906.8,538.5 907.3,516.8 908.3,516.8 908.8,520.1 909.3,525.5 909.8,530.2 910.3,530.2 910.8,532.9 911.3,538.5 911.8,516.8 912.3,516.8 912.8,538.5 913.3,516.8 913.8,516.8 914.3,532.9 914.8,530.2 915.8,530.2 916.3,532.9 916.8,532.9 917.3,520.1 917.8,532.9 918.8,532.9 919.3,530.2 919.8,530.2 920.3,516.8 920.8,525.5 921.3,525.5 921.8,542.4 922.8,542.4 923.3,520.1 924.3,520.1 924.8,532.9 925.3,542.4 925.8,542.4 926.3,538.5 926.8,538.5 927.3,531.9 927.8,522.7 928.3,535 928.8,529.4 929.3,535 929.8,529.4 930.3,526.7 931.3,526.7 931.8,522 932.3,526.7 932.8,516.6 933.3,516.6 933.8,513.3 934.3,513.3 934.8,526.7 935.3,529.4 935.8,516.6 936.3,517.6 936.8,524.8 937.3,532.9 937.8,530.2 938.3,532.9 939.3,532.9 939.8,542.4 940.3,538.5 944.3,538.5 944.8,520.1 945.3,520.1 945.8,538.5 946.3,520.1 946.8,542.4 947.3,516.8 947.8,538.5 948.3,516.8 948.8,516.8 949.3,538.5 950.8,538.5 951.3,530.2 952.3,530.2 952.8,516.8 953.3,525.5 953.8,532.9 954.3,532.9 954.8,516.8 955.3,532.9 955.8,516.8 956.3,538.5 956.8,516.8 958.3,516.8 958.8,530.2 959.3,532.9 959.8,532.9 960.3,525.5 960.8,520.1 961.3,538.5 961.8,525.5 962.3,542.4 962.8,525.5 963.3,542.4 964.3,542.4 964.8,532.9 965.3,530.2 965.8,520.1 966.3,516.8 966.9,722.5 967.4,698.2 968.4,698.2 968.9,712.5 969.4,712.5 969.9,706 970.9,706 971.4,719.8 972.4,719.8 972.9,701.5 973.4,709 973.9,706 974.4,709 974.9,719.8 975.4,719.8 975.9,698.2 976.4,706 976.9,698.2 977.4,706 977.9,719.8 978.4,701.5 980.4,701.5 980.9,712.5 981.4,712.5 981.9,701.5 982.4,698.2 982.9,719.8 984.4,719.8 984.9,709 985.4,698.2 985.9,712.5 986.4,712.5 986.9,701.5 987.4,706 987.9,719.8 990.4,719.8 990.9,698.2 992.9,698.2 993.4,719.8 993.9,719.8 994.4,698.2 994.9,698.2 995.4,716.5 995.9,716.5 996.4,701.4 996.9,698 997.4,697.9 997.9,701.1 998.4,697.7 998.9,697.6 999.4,697.5 999.9,697.4 1000.4,708.1 1000.9,708 1001.4,707.8 1001.9,704.7 1002.4,704.6 1002.9,718.3 1003.4,699.9 1003.9,699.8 1004.4,699.7 1004.9,699.6 1005.4,699.5 1005.9,703.9 1006.4,703.8 1006.9,703.7 1007.4,710.1 1007.9,710 1008.4,717.1 1008.9,713.7 1009.4,698.6 1009.9,716.8 1010.4,703 1010.9,695.1 1011.4,695.1 1011.9,716.6 1012.4,716.6 1012.9,702.8 1013.9,702.7 1014.4,702.6 1014.9,713.1 1015.4,694.7 1015.9,698 1016.4,709 1016.9,716.2 1017.9,716.1 1018.4,708.8 1018.9,697.7 1019.4,712.7 1019.9,712.7 1020.4,705.1 1020.9,712.6 1021.4,708.5 1021.9,697.5 1022.4,697.4 1022.9,704.9 1023.4,704.9 1023.9,697.3 1024.4,697.3 1024.9,704.7 1025.4,704.7 1025.9,697.1 1026.4,697.1 1026.9,704.6 1027.4,715.3 1028.4,715.2 1028.9,715.2 1029.4,693.5 1030.4,693.5 1030.9,693.4 1031.4,711.7 1031.9,704.1 1032.4,704.1 1032.9,714.9 1033.4,704 1033.9,711.5 1034.4,693.1 1034.9,700.9 1035.4,696.3 1035.9,700.8 1036.4,693 1037.4,692.9 1037.9,692.8 1038.4,696.1 1038.9,696 1039.4,692.7 1039.9,714.3 1040.4,714.2 1040.9,710.9 1041.4,700.3 1042.4,700.2 1042.9,695.7 1043.4,706.7 1043.9,700.1 1044.4,706.6 1044.9,692.2 1045.4,710.5 1045.9,710.4 1046.4,692.1 1046.9,699.9 1047.4,702.8 1047.9,710.3 1048.4,710.2 1048.9,702.7 1049.4,713.4 1049.9,702.6 1050.9,702.5 1051.4,710 1051.9,699.4 1052.4,699.4 1052.9,705.8 1053.4,709.8 1054.4,709.7 1054.9,709.7 1055.4,691.3 1055.9,691.3 1056.4,705.6 1056.9,705.5 1057.4,709.5 1057.9,691.2 1058.4,699 1058.9,712.8 1059.9,712.8 1060.4,702 1060.9,702 1061.4,694.5 1062.4,694.5 1062.9,705.5 1063.4,699 1063.9,699 1064.4,712.8 1066.4,712.8 1066.9,699 1067.4,702 1067.9,699 1068.4,691.2 1068.9,705.5 1069.4,705.5 1069.9,702 1070.4,705.5 1070.9,694.5 1071.4,694.5 1071.9,709.5 1072.4,702 1072.9,702 1073.4,691.2 1073.9,705.5 1074.4,705.5 1074.9,691.2 1075.4,691.2 1075.9,705.5 1076.4,702 1076.9,709.5 1077.9,709.5 1078.4,691.2 1079.9,691.2 1080.4,712.8 1080.9,709.5 1082.9,709.5 1083.4,691.2 1083.9,694.5 1084.9,694.5 1085.4,691.2 1085.9,694.5 1086.4,691.2 1086.9,712.8 1087.4,691.2 1087.9,705.5 1088.4,705.5 1088.9,691.2 1089.4,709.5 1090.4,709.5 1090.9,691.2 1091.4,712.8 1091.9,702 1092.4,702 1092.9,709.5 1093.4,712.8 1094.4,712.8 1094.9,702 1096.4,702 1096.9,712.8 1097.4,712.8 1097.9,691.2 1098.4,712.8 1098.9,712.8 1099.4,691.2 1099.9,702 1100.4,702 1100.9,691.2 1101.4,694.5 1101.9,694.5 1102.4,691.2 1102.9,709.5 1103.4,702 1103.9,702 1104.4,691.2 1104.9,691.2 1105.4,699 1105.9,709.5 1106.9,709.5 1107.4,694.5 1107.9,712.8 1108.4,691.2 1109.4,691.2 1109.9,702 1110.4,702 1110.9,691.2 1111.4,702 1111.9,691.2 1113.4,691.2 1113.9,702 1114.4,691.2 1114.9,702 1115.4,705.5 1115.9,694.5 1116.4,691.2 1117.4,691.2 1117.9,702 1118.4,702 1118.9,691.2 1119.4,694.5 1119.9,709.5 1120.4,691.2 1120.9,691.2 1121.4,712.8 1121.9,712.8 1122.4,709.5 1122.9,699 1123.4,702 1123.9,691.2 1124.4,699 1124.9,691.2 1125.4,691.2 1125.9,709.5 1126.4,709.5 1126.9,691.2 1127.9,691.2 1128.4,712.8 1128.9,709.5 1129.4,702 1129.9,712.8 1130.4,705.5 1130.9,705.5 1131.4,712.8 1131.9,691.2 1132.4,699 1132.9,699 1133.4,709.5 1133.9,691.2 1134.4,712.8 1134.9,709.5 1135.4,709.5 1135.9,702 1136.4,709.5 1136.9,694.5 1137.4,702 1137.9,691.2 1138.4,709.5 1138.9,709.5 1139.4,694.5 1140.4,694.5 1140.9,712.8 1141.4,709.5 1142.4,709.5 1142.9,712.8 1143.4,691.2 1143.9,712.8 1144.4,705.5 1144.9,709.5 1145.4,709.5 1145.9,691.2 1146.4,691.2 1146.9,699 1147.4,702 1147.9,694.5 1148.4,712.8 1148.9,694.5 1149.9,694.5 1150.4,702 1150.9,709.5 1151.4,709.5 1151.9,691.2 1152.9,691.2 1153.4,699 1153.9,699 1154.4,705.5 1154.9,699 1155.4,712.8 1156.4,712.8 1156.9,691.2 1157.9,691.2 1158.4,702 1158.9,694.5 1159.4,691.2 1159.9,712.8 1160.4,699 1160.9,712.8 1161.4,691.2 1161.9,702 1162.4,699 1162.9,705.5 1163.4,702 1163.9,712.8 1164.4,699 1164.9,691.2 1165.4,709.5 1165.9,702 1166.4,712.8 1166.9,709.5 1167.4,709.5 1167.9,691.2 1168.4,712.8 1168.9,712.8 1169.4,705.5 1169.9,705.5 1170.4,709.5 1170.9,694.5 1171.4,694.5 1171.9,699 1172.4,705.5 1172.9,709.5 1173.4,712.8 1173.9,709.5 1174.9,709.5 1175.4,712.8 1175.9,699 1176.4,699 1176.9,712.8 1177.4,712.8 1177.9,691.2 1178.9,691.2 1179.4,712.8 1179.9,691.2 1180.4,712.8 1180.9,712.8 1181.4,702 1182.4,702 1182.9,699 1183.4,694.5 1183.9,694.5 1184.4,702 1184.9,705.5 1185.4,694.5 1185.9,694.5 1186.4,702 1186.9,709.5 1187.4,694.5 1187.9,712.8 1188.4,694.5 1188.9,694.5 1189.4,691.2 1189.9,705.5 1190.4,712.8 1191.9,712.8 1192.4,709.5 1192.9,699 1193.4,691.2 1193.9,705.5 1194.4,705.5 1194.9,709.5 1195.4,712.8 1195.9,699 1196.4,709.5 1196.9,691.2 1197.4,702 1197.9,709.5 1198.4,691.2 1198.9,691.2 1199.4,702 1199.9,709.5 1200.4,699 1200.9,694.5 1201.4,709.5 1201.9,691.2 1202.4,709.5 1202.9,712.8 1203.4,709.5 1203.9,705.5 1204.4,691.2 1204.9,709.5 1205.4,694.5 1205.9,694.5 1206.4,712.8 1208.9,712.8 1209.4,699 1209.9,691.2 1210.4,694.5 1210.9,694.5 1211.4,691.2 1212.4,691.2 1212.9,705.5 1213.4,691.2 1214.4,691.2 1214.9,699 1215.4,705.5 1215.9,705.5 1216.4,691.2 1216.9,709.5 1217.4,691.2 1217.9,691.2 1218.4,699 1218.9,699 1219.4,709.5 1219.9,699 1220.4,705.5 1220.9,705.5 1221.4,712.8 1222.9,712.8 1223.4,691.2 1223.9,709.5 1224.4,702 1224.9,691.2 1225.4,694.5 1225.9,694.5 1226.4,702 1226.9,691.2 1227.9,691.2 1228.4,709.5 1228.9,709.5 1229.4,712.8 1229.9,709.5 1231.9,709.5 1232.4,694.5 1232.9,691.2 1233.4,712.8 1233.9,691.2 1234.4,691.2 1234.9,712.8 1235.4,702 1237.4,702 1237.9,712.8 1238.4,702 1238.9,691.2 1239.4,691.2 1239.9,702 1241.4,702 1241.9,709.5 1242.4,712.8 1242.9,709.5 1243.4,712.8 1243.9,691.2 1244.9,691.2 1245.4,699 1245.9,699 1246.4,709.5 1246.9,691.2 1247.4,702 1247.9,702 1248.4,705.5 1248.9,702 1249.4,691.2 1249.9,691.2 1250.4,699 1250.9,699 1251.4,691.2 1251.9,691.2 1252.4,705.5 1252.9,709.5 1253.4,691.2 1253.9,691.2 1254.4,699 1254.9,709.5 1255.9,709.5 1256.4,691.2 1256.9,705.5 1257.9,705.5 1258.4,694.5 1258.9,709.5 1259.4,705.5 1259.9,691.2 1260.4,691.2 1260.9,709.5 1262.4,709.5 1262.9,694.5 1263.4,712.8 1265.4,712.8 1265.9,691.2 1266.4,709.5 1266.9,709.5 1267.4,691.2 1267.9,691.2 1268.4,712.8 1268.9,691.2 1269.4,705.5 1269.9,702 1270.4,705.5 1270.9,691.2 1271.4,691.2 1271.9,694.5 1272.4,691.2 1272.9,691.2 1273.4,712.8 1273.9,691.2 1274.9,691.2 1275.4,705.5 1275.9,691.2 1276.4,712.8 1276.9,691.2 1277.4,694.5 1277.9,691.2 1278.4,712.8 1278.9,691.2 1279.9,691.2 1280.4,705.5 1280.9,702 1281.4,705.5 1281.9,712.8 1282.4,709.5 1282.9,712.8 1283.4,691.2 1283.9,712.8 1284.9,712.8 1285.4,702 1285.9,694.5 1286.4,699 1286.9,691.2 1287.4,712.8 1288.4,712.8 1288.9,709.5 1289.9,709.5 1290.4,691.2 1290.9,691.2 1291.4,712.8 1291.9,709.5 1292.4,712.8 1292.9,702 1293.4,702 1293.9,694.5 1294.4,699 1294.9,712.8 1295.4,712.8 1295.9,705.5 1296.4,712.8 1298.9,712.8 1299.4,691.2 1299.9,691.2 1300.4,712.8 1300.9,712.8 1301.4,709.5 1301.9,709.5 1302.4,694.5 1303.4,694.5 1303.9,691.2 1304.4,691.2 1304.9,705.5 1305.4,705.5 1305.9,709.5 1306.4,691.2 1308.4,691.2 1308.9,712.8 1309.4,694.5 1309.9,691.2 1310.4,691.2 1310.9,699 1311.4,702 1311.9,691.2 1312.4,699 1312.9,691.2 1313.4,694.5 1313.9,709.5 1314.4,694.5 1315.4,694.5 1315.9,691.2 1316.4,705.5 1316.9,691.2 1317.9,691.2 1318.4,699 1318.9,705.5 1320.4,705.5 1320.9,691.2 1321.4,699 1321.9,691.2 1322.4,694.5 1322.9,702 1323.9,702 1324.4,694.5 1324.9,709.5 1326.4,709.5 1326.9,699 1327.4,702 1327.9,691.2 1328.4,712.8 1329.4,712.8 1329.9,691.2 1330.4,709.5 1331.4,709.5 1331.9,691.2 1333.4,691.2 1333.9,702 1334.4,705.5 1335.9,705.5 1336.4,712.8 1336.9,691.2 1337.4,702 1338.4,702 1338.9,694.5 1339.9,694.5 1340.4,702 1340.9,691.2 1341.4,694.5 1341.9,694.5 1342.4,699 1342.9,699 1343.4,702 1345.4,702 1345.9,709.5 1346.4,694.5 1346.9,705.5 1347.4,691.2 1347.9,712.8 1351.9,712.8 1352.4,691.2 1352.9,691.2 1353.4,705.5 1353.9,699 1354.4,691.2 1354.9,694.5 1355.4,702 1355.9,702 1356.4,705.5 1356.9,705.5 1357.4,691.2 1357.9,702 1358.4,702 1358.9,694.5 1359.4,699 1359.9,691.2 1360.9,691.2 1361.4,694.5 1361.9,705.5 1362.4,691.2 1364.4,691.2 1364.9,705.5 1365.4,691.2 1366.4,691.2 1366.9,702 1367.4,712.8 1367.9,712.8 1368.4,694.5 1368.9,699 1369.4,699 1369.9,691.2 1371.4,691.2 1371.9,712.8 1372.4,702 1372.9,709.5 1373.4,702 1374.4,702 1374.9,705.5 1375.4,712.8 1375.9,691.2 1376.4,691.2 1376.9,705.5 1377.4,705.5 1377.9,694.5 1378.4,694.5 1378.9,702 1379.4,691.2 1379.9,705.5 1380.4,709.5 1380.9,691.2 1381.4,709.5 1381.9,705.5 1382.4,705.5 1382.9,709.5 1383.4,709.5 1383.9,712.8 1384.9,712.8 1385.4,694.5 1385.9,699 1386.4,709.5 1389.4,709.5 1389.9,699 1390.4,699 1390.9,712.8 1391.4,699 1391.9,702 1392.4,702 1392.9,691.2 1393.4,691.2 1393.9,712.8 1394.4,712.8 1394.9,705.5 1395.4,712.8 1395.9,712.8 1396.4,694.5 1396.9,694.5 1397.4,705.5 1397.9,712.8 1398.4,691.2 1398.9,691.2 1399.4,709.5 1401.4,709.5 1401.9,691.2 1402.9,691.2 1403.4,712.8 1405.4,712.8 1405.9,702 1406.4,699 1406.9,694.5 1408.9,694.5 1409.4,709.5 1410.4,709.5 1410.9,702 1411.4,702 1411.9,705.5 1412.9,705.5 1413.4,699 1413.9,694.5 1414.4,709.5 1414.9,709.5 1415.4,691.2 1415.9,709.5 1416.4,694.5 1416.9,694.5 1417.4,705.5 1418.4,705.5 1418.9,691.2 1419.4,694.5 1419.9,694.5 1420.4,702 1420.9,691.2 1421.4,694.5 1421.9,694.5 1422.4,709.5 1422.9,712.8 1423.4,712.8 1423.9,709.5 1425.4,709.5 1425.9,712.8 1426.4,712.8 1426.9,694.5 1427.4,709.5 1427.9,709.5 1428.4,691.2 1429.4,691.2 1429.9,712.8 1430.4,691.2 1430.9,691.2 1431.4,702 1431.9,709.5 1433.4,709.5 1433.9,702 1434.4,702 1434.9,694.5 1435.4,702 1435.9,709.5 1436.4,702 1436.9,712.8 1437.4,691.2 1437.9,705.5 1438.9,705.5 1439.4,712.8 1439.9,712.8 1440.4,705.5 1441.4,705.5 1441.9,709.5 1442.4,691.2 1445.9,691.2 1446.4,712.8 1447.4,712.8 1447.9,699 1448.4,691.2 1449.9,691.2 1450.4,712.8 1450.9,702 1451.4,705.5 1451.9,705.5 1452.4,709.5 1452.9,691.2 1453.9,691.2 1454.4,699 1455.4,699 1455.9,712.8 1456.4,712.8 1456.9,694.5 1457.4,694.5 1457.9,699 1458.4,699 1458.9,712.8 1459.4,705.5 1460.4,705.5 1460.9,712.8 1461.4,712.8 1461.9,694.5 1462.4,699 1464.4,699 1464.9,712.8 1465.4,694.5 1465.9,709.5 1466.4,709.5 1466.9,712.8 1467.4,712.8 1467.9,699 1468.4,691.2 1468.9,699 1469.4,699 1469.9,712.8 1470.4,691.2 1470.9,709.5 1471.4,705.5 1472.4,705.5 1472.9,699 1473.4,709.5 1473.9,694.5 1474.9,694.5 1475.4,691.2 1475.9,694.5 1476.9,694.5 1477.4,691.2 1477.9,699 1478.4,712.8 1478.9,705.5 1479.4,702 1479.9,709.5 1480.4,712.8 1480.9,691.2 1481.4,712.8 1481.9,702 1482.4,712.8 1482.9,691.2 1483.4,699 1483.9,709.5 1484.4,709.5 1484.9,691.2 1485.4,702 1486.4,702 1486.9,712.8 1487.4,699 1487.9,699 1488.4,709.5 1488.9,709.5 1489.4,712.8 1489.9,699 1490.4,712.8 1490.9,712.8 1491.4,694.5 1491.9,691.2 1492.4,702 1492.9,691.2 1493.4,712.8 1493.9,709.5 1494.4,709.5 1494.9,705.5 1495.4,712.8 1498.4,712.8 1498.9,691.2 1499.4,709.5 1499.9,705.5 1500.9,705.5 1501.4,702 1501.9,691.2 1502.4,691.2 1502.9,709.5 1503.4,694.5 1503.9,694.5 1504.4,691.2 1504.9,712.8 1505.4,712.8 1505.9,709.5 1506.4,709.5 1506.9,694.5 1507.4,712.8 1507.9,712.8 1508.4,702 1509.4,702 1509.9,709.5 1510.4,709.5 1510.9,705.5 1511.4,699 1511.9,694.5 1512.9,694.5 1513.4,705.5 1513.9,691.2 1515.4,691.2 1515.9,702 1518.4,702 1518.9,691.2 1519.9,691.2 1520.4,712.8 1520.9,699 1522.4,699 1522.9,705.5 1523.4,705.5 1523.9,709.5 1524.4,705.5 1524.9,699 1525.4,694.5 1525.9,709.5 1526.4,712.8 1527.4,712.8 1527.9,705.5 1528.4,699 1528.9,705.5 1529.4,691.2 1529.9,691.2 1530.4,709.5 1530.9,709.5 1531.4,702 1531.9,699 1532.4,699 1532.9,712.8 1533.4,702 1533.9,699 1534.4,709.5 1534.9,709.5 1535.4,699 1535.9,712.8 1536.4,694.5 1536.9,712.8 1537.4,712.8 1537.9,691.2 1540.9,691.2 1541.4,709.5 1541.9,712.8 1542.9,712.8 1543.4,702 1543.9,702 1544.4,712.8 1544.9,691.2 1545.4,709.5 1545.9,712.8 1547.9,712.8 1548.4,705.5 1549.9,705.5 1550.4,709.5 1550.9,699 1551.4,702 1551.9,694.5 1552.4,694.5 1552.9,712.8 1553.4,691.2 1554.4,691.2 1554.9,709.5 1556.9,709.5 1557.4,702 1557.9,705.5 1558.4,699 1558.9,712.8 1559.4,705.5 1560.4,705.5 1560.9,709.5 1561.9,709.5 1562.4,691.2 1562.9,699 1563.4,705.5 1563.9,699 1564.4,712.8 1564.9,705.5 1565.4,699 1565.9,699 1566.4,709.5 1566.9,712.8 1567.4,709.5 1568.4,709.5 1568.9,691.2 1569.4,702 1569.9,702 1570.4,691.2 1570.9,709.5 1571.4,709.5 1571.9,705.5 1572.4,705.5 1572.9,712.8 1573.4,712.8 1573.9,691.2 1574.9,691.2 1575.4,702 1575.9,694.5 1576.4,705.5 1576.9,705.5 1577.4,709.5 1577.9,709.5 1578.4,694.5 1578.9,712.8 1579.4,712.8 1579.9,705.5 1580.4,709.5 1580.9,712.8 1581.4,712.8 1581.9,691.2 1582.9,691.2 1583.4,702 1583.9,691.2 1584.4,699 1584.9,699 1585.4,691.2 1585.9,691.2 1586.4,712.8 1586.9,712.8 1587.4,702 1587.9,709.5 1588.4,712.8 1589.4,712.8 1589.9,691.2 1590.4,691.2 1590.9,699 1591.4,699 1591.9,702 1592.4,694.5 1592.9,694.5 1593.4,705.5 1593.9,709.5 1594.4,702 1595.4,702 1595.9,709.5 1596.9,709.5 1597.4,712.8 1598.4,712.8 1598.9,705.5 1599.4,691.2 1599.9,691.2 1600.4,702 1600.9,702 1601.4,705.5 1602.4,705.5 1602.9,699 1603.4,712.8 1604.4,712.8 1604.9,705.5 1605.4,691.2 1606.9,691.2 1607.4,705.5 1607.9,709.5 1608.4,712.8 1608.9,705.5 1609.4,709.5 1609.9,705.5 1610.4,712.8 1610.9,712.8 1611.4,691.2 1612.9,691.2 1613.4,709.5 1613.9,712.8 1614.4,709.5 1614.9,691.2 1615.4,691.2 1615.9,712.8 1616.4,705.5 1616.9,705.5 1617.4,712.8 1619.4,712.8 1619.9,691.2 1620.4,694.5 1620.9,702 1621.4,712.8 1621.9,709.5 1622.4,709.5 1622.9,712.8 1623.4,712.8 1623.9,694.5 1624.4,694.5 1624.9,709.5 1625.4,712.8 1625.9,705.5 1626.4,691.2 1626.9,705.5 1627.4,712.8 1629.4,712.8 1629.9,709.5 1630.4,709.5 1630.9,705.5 1631.4,699 1631.9,691.2 1632.4,691.2 1632.9,694.5 1634.4,694.5 1634.9,699 1635.4,709.5 1635.9,709.5 1636.4,712.8 1636.9,702 1637.4,705.5 1638.9,705.5 1639.4,691.2 1639.9,699 1640.4,702 1640.9,694.5 1641.9,694.5 1642.4,709.5 1642.9,691.2 1643.9,691.2 1644.4,705.5 1644.9,705.5 1645.4,691.2 1645.9,699 1646.4,699 1646.9,709.5 1647.4,691.2 1647.9,702 1648.4,691.2 1650.4,691.2 1650.9,712.8 1651.4,694.5 1651.9,694.5 1652.4,709.5 1652.9,691.2 1653.4,691.2 1653.9,712.8 1654.4,691.2 1654.9,702 1655.9,702 1656.4,694.5 1656.9,712.8 1657.4,691.2 1657.9,691.2 1658.4,709.5 1658.9,712.8 1659.4,712.8 1659.9,709.5 1660.4,709.5 1660.9,691.2 1661.4,709.5 1662.9,709.5 1663.4,702 1664.4,702 1664.9,712.8 1665.4,691.2 1665.9,709.5 1667.9,709.5 1668.4,712.8 1668.9,694.5 1669.4,709.5 1669.9,705.5 1671.4,705.5 1671.9,702 1672.4,699 1672.9,705.5 1673.9,705.5 1674.4,702 1674.9,709.5 1675.4,709.5 1675.9,694.5 1676.4,709.5 1676.9,702 1677.9,702 1678.4,694.5 1678.9,709.5 1679.4,702 1679.9,694.5 1680.4,699 1680.9,699 1681.4,709.5 1682.4,709.5 1682.9,705.5 1683.4,705.5 1683.9,694.5 1684.4,694.5 1684.9,691.2 1685.4,702 1685.9,712.8 1686.4,694.5 1686.9,691.2 1687.7,1129.3 1688.2,1129.3 1688.7,905 1689.3,899.5 1689.7,899.3 1691.2,899.3 1691.7,899.6 1692.2,895.8 1693.7,895.8 1694.2,899.3 1694.7,899.3 1695.2,896 1696.7,896 1697.2,899.3 1700.2,899.3 1700.7,904.1 1701.2,904.1 1701.7,899.3 1702.2,899.2 1702.7,898.5 1703.2,898.5 1703.7,897.8 1704.2,898 1705.2,898 1705.7,885.5 1708.2,885.5 1708.7,898 1709.2,898 1709.7,885.8 1710.2,885.8 1710.7,885.5 1711.7,885.5 1712.2,886.1 1713.2,886.1 1713.7,898 1714.2,898.3 1714.7,889.6 1715.7,889.6 1716.2,898 1716.7,890.7 1717.2,890.7 1717.7,898.3 1718.2,898 1718.7,898 1719.2,898.3 1719.7,898 1723.2,898 1723.7,889.4 1725.2,889.4 1725.7,897.6 1726.2,898 1728.2,898 1728.7,898.3 1729.2,898 1729.7,898 1730.2,898.3 1730.7,892.7 1733.2,892.7 1733.7,897.9 1735.7,897.9 1736.2,897.5 1736.7,897.9 1740.7,897.9 1741.2,892.7 1742.2,892.7 1742.7,898.2 1743.2,897.9 1743.7,897.9 1744.2,892.9 1745.2,892.9 1745.7,897.9 1749.2,897.9 1749.7,903.9 1751.2,903.9 1751.7,897.9 1753.2,897.9 1753.7,892.7 1755.2,892.7 1755.7,892.9 1756.7,892.9 1757.2,897.9 1757.7,897.5 1758.2,897.9 1758.7,897.5 1759.2,897.9 1760.2,897.9 1760.7,903.9 1761.7,903.9 1762.2,897.9 1762.7,882 1763.2,882 1763.7,897.9 1765.7,897.9 1766.2,897.5 1766.7,897.5 1767.2,904.1 1767.7,904.1 1768.2,882 1768.7,882 1769.2,897.9 1769.7,882.1 1770.2,882.1 1770.7,897.9 1771.2,897.4 1771.7,897.9 1772.2,882 1772.7,882 1773.2,897.9 1774.2,897.8 1774.7,904.1 1775.2,904.1 1775.7,882 1776.7,882 1777.2,897.8 1777.7,904.1 1778.7,904.1 1779.2,897.8 1780.7,897.8 1781.2,882 1782.2,882 1782.7,897.8 1785.2,897.8 1785.7,882 1786.7,882 1787.2,897.8 1787.7,897.8 1788.2,904.1 1789.2,904.1 1789.7,897.8 1791.2,897.8 1791.7,897.4 1792.2,896.8 1792.7,896.2 1793.2,895.5 1793.7,895.3 1794.7,895.3 1795.2,895.6 1795.7,882 1796.2,882 1796.7,895.2 1797.2,904.1 1797.7,904.1 1798.2,895.2 1798.7,894.8 1799.2,895.2 1800.7,895.2 1801.2,904.1 1802.2,904.1 1802.7,895.2 1804.7,895.2 1805.2,892.7 1806.2,892.7 1806.7,895.2 1808.2,895.2 1808.7,890.7 1809.2,890.7 1809.7,895.2 1810.2,895.5 1810.7,886.1 1811.7,886.1 1812.2,895.2 1812.7,890.7 1813.2,890.7 1813.7,895.2 1814.7,895.2 1815.2,894.8 1815.7,904.1 1817.2,904.1 1817.7,895.2 1818.2,895.2 1818.7,889.8 1819.2,889.8 1819.7,895.2 1820.7,895.2 1821.2,885.5 1822.2,885.5 1822.7,904.1 1823.2,904.1 1823.7,894.8 1824.2,895.2 1824.7,889.6 1825.7,889.6 1826.2,895.5 1826.7,895.5 1827.2,895.2 1828.7,895.2 1829.2,895.5 1829.7,895.2 1830.2,895.2 1830.7,894.8 1831.2,895.2 1832.2,895.2 1832.7,894.8 1833.2,895.2 1835.7,895.2 1836.2,893.2 1836.7,893.2 1837.2,895.1 1838.7,895.1 1839.2,895.5 1839.7,895.1 1840.2,893.2 1840.7,893.2 1841.2,895.1 1841.7,895.1 1842.2,894.7 1842.7,894.7 1843.2,895.1 1843.7,889.6 1844.7,889.6 1845.2,894.7 1845.7,895.1 1846.2,885.5 1847.2,885.5 1847.7,895.1 1848.7,895.1 1849.2,895.4 1849.7,895.1 1851.7,895.1 1852.2,885.5 1853.2,885.5 1853.7,890.7 1854.2,890.7 1854.7,894.7 1855.2,895.1 1856.2,895.1 1856.7,895.4 1857.2,895.1 1858.7,895.1 1859.2,889.6 1860.2,889.6 1860.7,895.1 1861.2,890.7 1861.7,890.7 1862.2,895.1 1863.2,895.1 1863.7,885.5 1864.2,885.5 1864.7,895.1 1865.2,885.8 1865.7,885.8 1866.2,895.1 1867.2,895.1 1867.7,894.7 1868.2,895.1 1868.7,882 1869.7,882 1870.2,883 1870.7,883 1871.2,895.1 1873.2,895.1 1873.7,885.5 1874.7,885.5 1875.2,882 1876.2,882 1876.7,894.6 1877.2,895.1 1878.2,895.1 1878.7,895.4 1879.2,895.4 1879.6,896 1880,1303.8 1884.8,879 1885.6,1313.4 1890,893 1890.6,1279.3 1894.6,926.5 1895.2,1338.4 1899.2,942.9 1900.4,1290.4 1904,902.6 1904.6,1306.4 1908.6,924.9 1909.2,1314.4 1912.9,960.9 1913.5,1334.8 1917.5,967.3 1917.9,1307.8 1921.5,977.9 1921.9,1364.4 1926.1,964.5 1926.5,1355.8 1929.9,1020.8 1930.9,1347.2 1934.5,990.3 1935.1,1354.8 1938.3,1024.8 1939.3,1358.8 1942.5,1025.4 1943.1,1385.7 1946.1,1052.4 1947.1,1379.4 1950.3,1042.8 1950.9,1403.3 1954.1,1062.8 1954.7,1382.1 1958.3,1042.2 1958.7,1391.3 1962.1,1079.2 1962.7,1399.3 1965.7,1096.8 1966.5,1415 1969.7,1066.4 1970.3,1392.7 1973.3,1099.2 1973.9,1415 1976.7,1144 1977.5,1415 1980.1,1138 1981.1,1382.1 1983.9,1155 1984.9,1399.7 1987.3,1163.6 1988.3,1415 1990.7,1191.5 1991.7,1391.3 1993.9,1152.6 1995.1,1415 1997.5,1154 1998.5,1415 2001.1,1156.6 2002,1415 2004.5,1180.3 2005.4,1415 2007.7,1180.9 2008.8,1415 2011.3,1187.9 2012.2,1415 2014.3,1176 2015.6,1415 2017.7,1201.9 2019,1415 2021.2,1193.5 2021.9,1415 2052.9,1415"/>
<polyline fill="none" stroke="#FF2600" stroke-width="2" stroke-linejoin="round" points="112.1,1257.9 117.6,1257.9 119.1,1260.7 124.4,1260.7 125.8,1244.1 129.3,1244.1 130.8,1227.6 134.1,1227.6 135.7,1219.3 137.6,1219.3 139.6,1211.1 145.8,1197.3 147.8,1197.3 148.8,1191.8 150.3,1191.8 152.3,1181.9 157.5,1169.7 159.5,1169.7 161.4,1161.4 163.4,1161.4 166.3,1155.9 167.9,1150.4 170.2,1150.4 173.2,1144.9 177.1,1140.9 180.4,1133.9 183.5,1133.9 187.8,1122.9 190.1,1122.9 191.7,1120.1 193.6,1120.1 195,1117.4 197,1117.4 201.4,1109.1 204.4,1109.1 206.3,1106.3 208.3,1106.3 210.2,1103.6 212.2,1103.6 215.1,1100.8 217,1098.1 219.4,1095.3 221.3,1095.3 223.5,1092.5 226.8,1092.5 231.1,1087 232.7,1087 234.6,1084.3 236.6,1084.3 238.9,1081.5 241.4,1081.5 243.8,1078.8 246.3,1078.8 248.3,1076 250.2,1076 252.5,1073.3 255.1,1073.3 259,1067.7 265.8,1067.7 267.8,1065 274.6,1065 276.5,1062.2 282.4,1062.2 284.3,1059.5 288.2,1059.5 290.2,1056.7 292.2,1056.7 294.1,1054 302.9,1054 304.8,1051.2 314.2,1051.2 316.5,1048.5 324.3,1048.5 326.3,1045.7 339,1045.7 340.9,1042.9 347.7,1042.9 350.1,1045.7 355.9,1045.7 357.5,1048.5 363,1048.5 364.5,1051.2 369.2,1051.2 371.2,1054 379.3,1054 383.3,1059.5 394.6,1059.5 396.5,1062.2 404.7,1062.2 407.2,1065 422.9,1065 424.8,1067.7 443.7,1067.7 445.3,1070.5 450.2,1070.5 451.7,1073.3 469.3,1073.3 470.6,1070.5 472.6,1073.3 498,1073.3 500,1073.3 502.3,1076 518.5,1076 520.5,1073.3 535.1,1073.3 536.7,1076 660,1076 661.9,1073.3 728.6,1073.3 730.6,1070.5 736,1070.5 737.6,1067.7 747.4,1067.7 749.1,1065 760,1065 761.6,1062.2 773.1,1062.2 775.1,1059.5 783.3,1059.5 784.8,1056.7 788.3,1056.7 789.9,1054 807.2,1054 808.8,1051.2 835.5,1051.2 837.1,1054 864.4,1054 867.9,1059.5 879,1059.5 880.6,1062.2 898.9,1062.2 900.5,1065 910.6,1065 911.8,1062.2 914,1062.2 915.5,1065 920,1065 922,1062.2 932.7,1062.2 934.6,1065 937.2,1065 939.1,1062.2 954.1,1062.2 955.5,1065 976.6,1065 978.1,1067.7 981.4,1067.7 985.4,1073.3 988.3,1073.3 989.8,1076 992.2,1076 994.1,1078.8 997.1,1078.8 998.6,1081.5 1003.5,1081.5 1007.2,1087 1016,1087 1017.5,1089.8 1023.4,1089.8 1025,1092.5 1033.1,1092.5 1034.7,1095.3 1043.3,1095.3 1044.8,1098.1 1047.8,1098.1 1050.3,1100.8 1063.4,1100.8 1064.7,1103.6 1078,1103.6 1079.6,1106.3 1104.9,1106.3 1106.9,1109.1 1119.4,1109.1 1120.9,1111.8 1138.1,1111.8 1139.3,1114.6 1176.5,1114.6 1178.9,1117.4 1180.8,1114.6 1183.7,1114.6 1185.3,1117.4 1199,1117.4 1200.5,1114.6 1222.4,1114.6 1223.9,1111.8 1230.6,1111.8 1232.1,1109.1 1253.6,1109.1 1255.1,1106.3 1269.2,1106.3 1271.5,1103.6 1313.1,1103.6 1314.4,1106.3 1340,1106.3 1344.9,1106.3 1346.4,1109.1 1360.5,1109.1 1361.8,1111.8 1363.8,1111.8 1365,1109.1 1370.2,1109.1 1371.6,1111.8 1375.1,1111.8 1376.7,1114.6 1402,1114.6 1403.6,1117.4 1452.2,1117.4 1453.7,1120.1 1500.9,1120.1 1502.5,1122.9 1555.6,1122.9 1556.9,1120.1 1569.2,1120.1 1570.6,1117.4 1581.9,1117.4 1583.5,1114.6 1597.9,1114.6 1599.5,1111.8 1603,1111.8 1604.5,1109.1 1619,1109.1 1620.5,1106.3 1638.9,1106.3 1640.4,1103.6 1642,1106.3 1683.3,1106.3 1685.3,1109.1 1696,1109.1 1697.6,1111.8 1699.9,1111.8 1701.3,1114.6 1705.8,1114.6 1707.3,1117.4 1711.6,1117.4 1713,1120.1 1714.5,1120.1 1716.1,1122.9 1721.4,1122.9 1722.7,1125.6 1724.3,1125.6 1725.9,1128.4 1730.5,1128.4 1732.1,1131.1 1736,1131.1 1737.6,1133.9 1740,1133.9 1744.5,1133.9 1746.2,1136.6 1757.1,1136.6 1758.1,1139.4 1761.1,1139.4 1762,1142.2 1773,1142.2 1774.5,1144.9 1788.3,1144.9 1789.8,1147.7 1803.2,1147.7 1804.4,1150.4 1826.2,1150.4 1827.7,1153.2 1844,1153.2 1845.5,1155.9 1850.3,1155.9 1851.8,1153.2 1866.3,1153.2 1868.1,1150.4 1900.2,1150.4 1901.6,1153.2 1905.7,1153.2 1907.2,1155.9 1918.1,1155.9 1919.8,1158.7 1927,1158.7 1928.5,1161.4 1937.4,1161.4 1938.9,1164.2 1950.8,1164.2 1952.2,1167 1957,1167 1958.8,1169.7 1968.1,1169.7 1969.6,1172.5 1972.6,1172.5 1974.4,1175.2 1979,1175.2 1980.5,1178 1984.5,1178 1986.7,1180.7 1989.7,1183.5 1993.4,1183.5 1994.9,1186.3 2000.1,1186.3 2001.9,1189 2012,1189 2013.5,1191.8 2017.9,1191.8 2021.7,1197.3 2028.3,1197.3 2029.8,1200 2032.1,1200 2033.5,1202.8 2035.8,1202.8 2037.3,1205.5 2039.5,1205.5 2041.7,1208.3 2044.4,1213.8 2048.4,1213.8 2049.9,1216.6 2051.4,1216.6 2052.6,1219.3"/>
<rect x="845.3" y="17.8" width="463" height="155.8" fill="#fff" filter="url(#shT)"/>
<rect x="846" y="18.5" width="461.6" height="154.4" fill="none" stroke="#B0B0B0" stroke-width="1.4"/>
<text x="1076" y="62.7" font-size="39.3" font-weight="bold" fill="#000" text-anchor="middle" textLength="451.5" lengthAdjust="spacingAndGlyphs">Weltool W4, Test_Emitter</text>
<text x="1076.3" y="112.6" font-size="39.3" font-weight="bold" fill="#000" text-anchor="middle" textLength="378" lengthAdjust="spacingAndGlyphs">High Runtime, Cooled</text>
<text x="1076.2" y="162.4" font-size="39.3" font-weight="bold" fill="#000" text-anchor="middle" textLength="361.5" lengthAdjust="spacingAndGlyphs">Using Weltool 21700</text>
<rect x="1569" y="122.2" width="439.7" height="102.4" fill="#fff" filter="url(#sh)"/>
<rect x="1569.5" y="122.7" width="438.7" height="101.4" fill="none" stroke="#E2E2E2" stroke-width="1.0"/>
<path d="M1595.4 148.1 H1635.2" stroke="#0433FF" stroke-width="2.1" stroke-linecap="round"/>
<path d="M1595.4 198.5 H1635.2" stroke="#FF2600" stroke-width="2.1" stroke-linecap="round"/>
<text x="1638.2" y="161.6" font-size="29.8" fill="#000" text-anchor="start" textLength="346.5" lengthAdjust="spacingAndGlyphs">Output, lm (Max: 428 lm)</text>
<text x="1637.6" y="212" font-size="29.8" fill="#000" text-anchor="start" textLength="316" lengthAdjust="spacingAndGlyphs">Temp, °C (Max: 33.5°C)</text>
<rect x="1569" y="238.3" width="439.7" height="136.2" fill="#fff" filter="url(#sh)"/>
<rect x="1569.5" y="238.8" width="438.7" height="135.2" fill="none" stroke="#E2E2E2" stroke-width="1.0"/>
<text x="1995.6" y="279.2" font-size="29.8" fill="#000" text-anchor="end" textLength="385" lengthAdjust="spacingAndGlyphs">15 minutes to 80%, (319 lm)</text>
<text x="1995.6" y="318.5" font-size="29.8" fill="#000" text-anchor="end" textLength="401.7" lengthAdjust="spacingAndGlyphs">105 minutes to 50%, (199 lm)</text>
<text x="1995.6" y="358.2" font-size="29.8" fill="#000" text-anchor="end" textLength="385" lengthAdjust="spacingAndGlyphs">119 minutes to 10%, (40 lm)</text>
<rect x="1569" y="390.2" width="439.7" height="135.2" fill="#fff" filter="url(#sh)"/>
<rect x="1569.5" y="390.7" width="438.7" height="134.2" fill="none" stroke="#E2E2E2" stroke-width="1.0"/>
<text x="1788.8" y="430.2" font-size="29.8" fill="#000" text-anchor="middle" textLength="385" lengthAdjust="spacingAndGlyphs">Low Voltage Characteristics:</text>
<text x="1788.8" y="469.4" font-size="29.8" fill="#000" text-anchor="middle" textLength="292.3" lengthAdjust="spacingAndGlyphs">3.03V, Flash warning,</text>
<text x="1789.4" y="509.2" font-size="29.8" fill="#000" text-anchor="middle" textLength="176.5" lengthAdjust="spacingAndGlyphs">Switched Off</text>
<rect x="305.7" y="606.8" width="549.7" height="382" fill="#fff" stroke="#A3A3A3" stroke-width="1.6"/>
<path d="M420.2 619.1 V947.1 M479.4 619.1 V947.1 M538.6 619.1 V947.1 M597.8 619.1 V947.1 M656.9 619.1 V947.1 M716.1 619.1 V947.1 M775.3 619.1 V947.1 M834.5 619.1 V947.1 M361 892.4 H834.5 M361 837.8 H834.5 M361 783.1 H834.5 M361 728.4 H834.5 M361 673.8 H834.5 M361 619.1 H834.5" stroke="#EBEBEB" stroke-width="1.4" fill="none"/>
<path d="M361 619.1 V947.1 M361 947.1 H834.5 M361 947.1 h-6.5 M361 892.4 h-6.5 M361 837.8 h-6.5 M361 783.1 h-6.5 M361 728.4 h-6.5 M361 673.8 h-6.5 M361 619.1 h-6.5 M361 947.1 v6.5 M420.2 947.1 v6.5 M479.4 947.1 v6.5 M538.6 947.1 v6.5 M597.8 947.1 v6.5 M656.9 947.1 v6.5 M716.1 947.1 v6.5 M775.3 947.1 v6.5 M834.5 947.1 v6.5" stroke="#9B9B9B" stroke-width="1.6" fill="none"/>
<g font-size="18.7" fill="#000" text-anchor="end">
<text x="341.4" y="956">200</text>
<text x="341.4" y="901.3">250</text>
<text x="341.4" y="846.7">300</text>
<text x="341.4" y="792">350</text>
<text x="341.4" y="737.3">400</text>
<text x="341.4" y="682.7">450</text>
<text x="341.4" y="628">500</text>
</g>
<g font-size="18.7" fill="#000" text-anchor="middle">
<text x="360.5" y="981.5">0</text>
<text x="419.7" y="981.5">0.25</text>
<text x="478.9" y="981.5">0.5</text>
<text x="538.1" y="981.5">0.75</text>
<text x="597.2" y="981.5">1</text>
<text x="656.4" y="981.5">1.25</text>
<text x="715.6" y="981.5">1.5</text>
<text x="774.8" y="981.5">1.75</text>
<text x="834" y="981.5">2</text>
</g>
<path d="M361 730.1 H479.9 V947.1" stroke="#0F8A0F" stroke-width="1.3" stroke-dasharray="3.6 3.4" fill="none"/>
<polyline fill="none" stroke="#0433FF" stroke-width="3.8" stroke-linejoin="round" stroke-linecap="butt" points="361,696.3 369.7,715.3 378.1,718.1 386.5,720 394.9,722 401.8,722.8 408.8,720 416.4,729.8 423.7,728.1 432,731.2 440.4,726.2 448.8,728.1 457.2,724.2 464.8,724.2 473.2,727.9 481.5,730.1 488.5,731.2 496.4,731.2 503.1,728.1 511.5,734.8 519.8,734 527.7,733.2 536.1,733.2 543.1,734 551.4,733.2 559,736.8 566.8,736.8 575.2,734.8 583,734 590.6,734 599,734.8 606,734 613.8,731.2 622.2,737.9 629.7,736.8 637.6,734.8 645.1,734.8 653.5,734.8 661.3,734.8 668.9,738.8 677.3,731.2 685.1,734 692.7,736.8 701,736.8 708.9,736.8 716.4,736.8 724,736.8 731.8,739 739.6,741 748,739 755.6,737.1 764,742.4 770.9,741.6 779.3,738.2 787.2,738.2 795,734.3 803.1,735.1 810.7,734.3 819,742.1 826.9,739 835.3,738.2"/>
<rect x="686.5" y="618.8" width="146.5" height="95.1" fill="#fff" filter="url(#sh)"/>
<rect x="687.1" y="619.4" width="145.3" height="93.9" fill="none" stroke="#B0B0B0" stroke-width="1.2"/>
<text x="752.1" y="659.9" font-size="29.8" fill="#000" text-anchor="middle" textLength="94.7" lengthAdjust="spacingAndGlyphs">398 lm</text>
<text x="752.4" y="699" font-size="29.8" fill="#000" text-anchor="middle" textLength="83.5" lengthAdjust="spacingAndGlyphs">at 30s</text>
<rect x="164" y="430" width="452" height="178" fill="#fff" fill-opacity="0.4"/>
<g font-size="53">
<g filter="url(#rb)"><g clip-path="url(#rc1)"><text transform="matrix(1 0 0 -1 0 999)" x="177" y="495.7" fill="url(#rg1)" textLength="384" lengthAdjust="spacingAndGlyphs">ZeroAir Reviews</text></g>
<g clip-path="url(#rc2)"><text transform="matrix(1 0 0 -1 0 1135.8)" x="178" y="563.8" fill="url(#rg2)" textLength="260" lengthAdjust="spacingAndGlyphs">zeroair.org</text></g></g>
<g filter="url(#wsh)" fill="#FBAA5C"><text x="177" y="495.7" textLength="384" lengthAdjust="spacingAndGlyphs">ZeroAir Reviews</text>
<text x="178" y="563.8" textLength="260" lengthAdjust="spacingAndGlyphs">zeroair.org</text></g>
</g>
</svg></body></html>
